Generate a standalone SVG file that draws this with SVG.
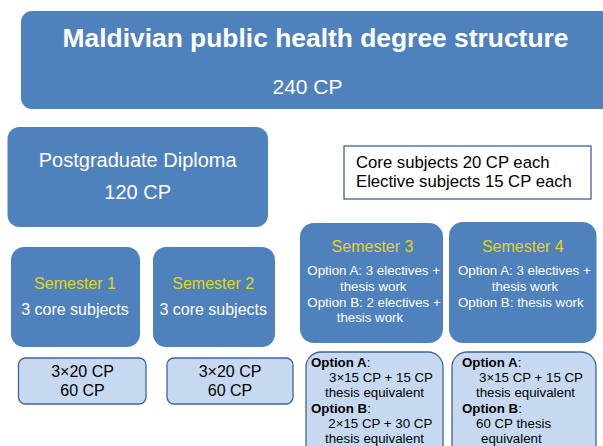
<svg xmlns="http://www.w3.org/2000/svg" width="603" height="446" viewBox="0 0 603 446">
  <style>
    text { font-family: "Liberation Sans", Arial, sans-serif; }
    .blue { fill: #4F81BD; }
    .light { fill: #C6D9F1; stroke: #3F6497; stroke-width: 1.3; }
    .info { fill: #FFFFFF; stroke: #2F528F; stroke-width: 1.2; }
    .w { fill: #FFFFFF; }
    .k { fill: #000000; }
    .y { fill: #E3D41A; }
    .c { text-anchor: middle; }
    .s13 { font-size: 13.3px; }
    .s16 { font-size: 16px; }
    .s20 { font-size: 20px; }
    .b { font-weight: bold; }
  </style>
  <rect width="603" height="446" fill="#FFFFFF"/>

  <g id="title">
    <rect class="blue" x="21" y="11" width="600" height="98" rx="11"/>
    <text class="w c b" x="315.5" y="47" font-size="26.4px">Maldivian public health degree structure</text>
    <text class="w c" x="307.5" y="94" font-size="21px">240 CP</text>
  </g>

  <g id="pgdiploma">
    <rect class="blue" x="7.5" y="127" width="260.5" height="100" rx="12"/>
    <text class="w c s20" x="137.7" y="167">Postgraduate Diploma</text>
    <text class="w c s20" x="137.7" y="199">120 CP</text>
  </g>

  <g id="legend">
    <rect class="info" x="344" y="146" width="247" height="53"/>
    <text class="k" x="356" y="168" font-size="16.7px">Core subjects 20 CP each</text>
    <text class="k" x="356" y="187" font-size="16.7px">Elective subjects 15 CP each</text>
  </g>

  <g id="semester1">
    <rect class="blue" x="11" y="247" width="129" height="100" rx="13"/>
    <text class="y c s16" x="75" y="289">Semester 1</text>
    <text class="w c s16" x="75" y="315">3 core subjects</text>
  </g>

  <g id="semester2">
    <rect class="blue" x="153" y="247" width="122" height="100" rx="13"/>
    <text class="y c s16" x="213.2" y="289">Semester 2</text>
    <text class="w c s16" x="213.2" y="315">3 core subjects</text>
  </g>

  <g id="semester3">
    <rect class="blue" x="300" y="223" width="143" height="120" rx="14"/>
    <text class="y c s16" x="372.5" y="252">Semester 3</text>
    <text class="w s13" x="307.3" y="275">Option A: 3 electives +</text>
    <text class="w s13" x="340" y="291">thesis work</text>
    <text class="w s13" x="307.3" y="307">Option B: 2 electives +</text>
    <text class="w s13" x="336.7" y="322">thesis work</text>
  </g>

  <g id="semester4">
    <rect class="blue" x="449" y="222" width="147.5" height="121" rx="14"/>
    <text class="y c s16" x="522.8" y="252">Semester 4</text>
    <text class="w s13" x="458" y="275">Option A: 3 electives +</text>
    <text class="w s13" x="491.7" y="291">thesis work</text>
    <text class="w s13" x="458" y="307">Option B: thesis work</text>
  </g>

  <g id="credits1">
    <rect class="light" x="18.5" y="358" width="127.5" height="46" rx="7"/>
    <text class="k c s16" x="82.5" y="377">3×20 CP</text>
    <text class="k c s16" x="82.5" y="396">60 CP</text>
  </g>

  <g id="credits2">
    <rect class="light" x="167" y="358" width="126" height="46" rx="7"/>
    <text class="k c s16" x="230" y="377">3×20 CP</text>
    <text class="k c s16" x="230" y="396">60 CP</text>
  </g>

  <g id="credits3">
    <rect class="light" x="306" y="352" width="137" height="110" rx="15"/>
    <text class="k s13" x="311" y="367"><tspan class="b">Option A</tspan>:</text>
    <text class="k s13" x="329" y="382">3×15 CP + 15 CP</text>
    <text class="k s13" x="325" y="397">thesis equivalent</text>
    <text class="k s13" x="311" y="413"><tspan class="b">Option B</tspan>:</text>
    <text class="k s13" x="328.3" y="428">2×15 CP + 30 CP</text>
    <text class="k s13" x="325" y="443">thesis equivalent</text>
  </g>

  <g id="credits4">
    <rect class="light" x="452" y="352" width="144" height="110" rx="15"/>
    <text class="k s13" x="462" y="367"><tspan class="b">Option A</tspan>:</text>
    <text class="k s13" x="479" y="382">3×15 CP + 15 CP</text>
    <text class="k s13" x="476" y="397">thesis equivalent</text>
    <text class="k s13" x="462" y="413"><tspan class="b">Option B</tspan>:</text>
    <text class="k s13" x="476" y="428">60 CP thesis</text>
    <text class="k s13" x="481" y="443">equivalent</text>
  </g>

  <g id="connectors"></g>
</svg>
